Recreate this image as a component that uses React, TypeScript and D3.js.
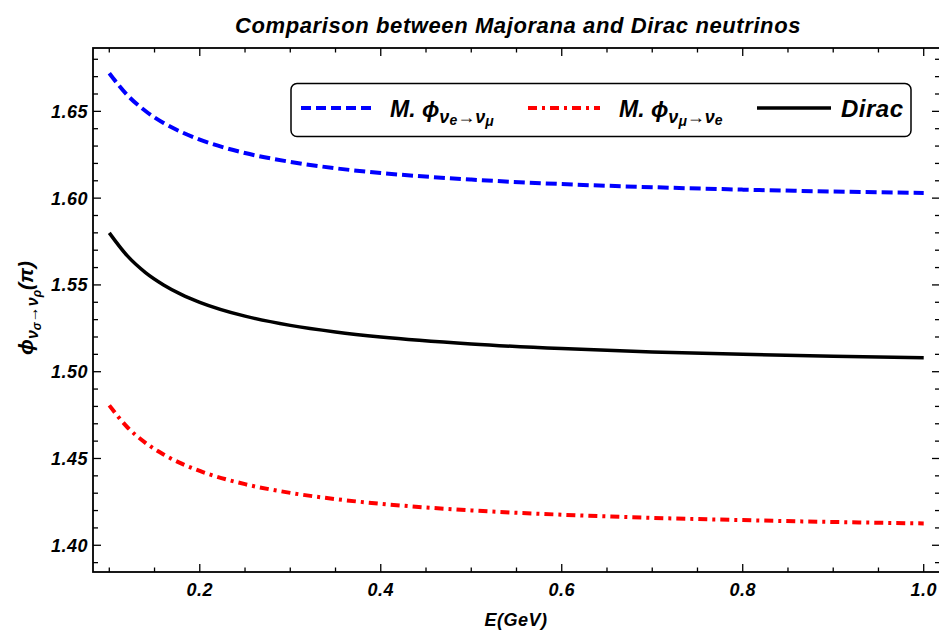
import React from "react";
import * as d3 from "d3";

const energy = [0.1, 0.12, 0.14, 0.16, 0.18, 0.2, 0.25, 0.3, 0.35, 0.4, 0.5, 0.6, 0.7, 0.8, 0.9, 1.0];

// phase in units of pi
const majoranaEMu = [1.672, 1.6593, 1.6502, 1.6433, 1.638, 1.6337, 1.626, 1.6209, 1.6172, 1.6145, 1.6107, 1.6081, 1.6063, 1.6049, 1.6038, 1.603];
const majoranaMuE = [1.4806, 1.468, 1.459, 1.4523, 1.447, 1.4428, 1.4352, 1.4302, 1.4266, 1.4239, 1.4201, 1.4176, 1.4158, 1.4145, 1.4134, 1.4126];
const dirac = [1.58, 1.5667, 1.5571, 1.55, 1.5444, 1.54, 1.532, 1.5267, 1.5229, 1.52, 1.516, 1.5133, 1.5114, 1.51, 1.5089, 1.508];

const xMajor = [0.2, 0.4, 0.6, 0.8, 1.0];
const yMajor = [1.4, 1.45, 1.5, 1.55, 1.6, 1.65];

const W = 939;
const H = 632;
const left = 93;
const right = 940;
const top = 48;
const bottom = 572;
const FONT = "'Liberation Sans', Arial, sans-serif";

export default function App() {
  const x = d3.scaleLinear().domain([0.082, 1.018]).range([left, right]);
  const y = d3.scaleLinear().domain([1.3846, 1.6865]).range([bottom, top]);

  const line = d3
    .line<number>()
    .x((d, i) => x(energy[i]))
    .y((d) => y(d))
    .curve(d3.curveMonotoneX);

  const xMinor = d3.range(2, 21).map((i) => i * 0.05).filter((v) => !xMajor.some((m) => Math.abs(m - v) < 1e-6));
  const yMinor = d3.range(139, 169).map((i) => i / 100).filter((v) => !yMajor.some((m) => Math.abs(m - v) < 1e-6));

  const series = [
    { data: majoranaEMu, color: "#0000ff", dash: "11,5", width: 4 },
    { data: majoranaMuE, color: "#ff0000", dash: "9,5,3,5", width: 4 },
    { data: dirac, color: "#000000", dash: null, width: 3.5 },
  ];

  const tickStroke = { stroke: "#000", strokeWidth: 1.3 };
  const lbl = { fontSize: 18, fontWeight: "bold", fontStyle: "italic", letterSpacing: 0.5 } as const;

  return (
    <svg width={W} height={H} style={{ position: "absolute", left: 0, top: 0, background: "#fff" }} fontFamily={FONT}>
      <defs>
        <clipPath id="plot">
          <rect x={left} y={top} width={right - left} height={bottom - top} />
        </clipPath>
      </defs>
      {/* title */}
      <text x={518} y={33} textAnchor="middle" fontSize={22} fontWeight="bold" fontStyle="italic" letterSpacing={0.6}>
        Comparison between Majorana and Dirac neutrinos
      </text>

      {/* curves */}
      <g clipPath="url(#plot)">
        {series.map((s, i) => (
          <path
            key={i}
            d={line(s.data) || ""}
            fill="none"
            stroke={s.color}
            strokeWidth={s.width}
            strokeDasharray={s.dash || undefined}
          />
        ))}
      </g>

      {/* frame */}
      <rect x={left} y={top} width={right - left} height={bottom - top} fill="none" stroke="#000" strokeWidth={1.8} />

      {/* x ticks */}
      {xMajor.map((v) => (
        <g key={"xM" + v}>
          <line x1={x(v)} x2={x(v)} y1={bottom} y2={bottom - 8} {...tickStroke} />
          <line x1={x(v)} x2={x(v)} y1={top} y2={top + 8} {...tickStroke} />
          <text x={x(v)} y={596} textAnchor="middle" {...lbl}>
            {v.toFixed(1)}
          </text>
        </g>
      ))}
      {xMinor.map((v) => (
        <g key={"xm" + v}>
          <line x1={x(v)} x2={x(v)} y1={bottom} y2={bottom - 4.5} {...tickStroke} />
          <line x1={x(v)} x2={x(v)} y1={top} y2={top + 4.5} {...tickStroke} />
        </g>
      ))}

      {/* y ticks */}
      {yMajor.map((v) => (
        <g key={"yM" + v}>
          <line x1={left} x2={left + 8} y1={y(v)} y2={y(v)} {...tickStroke} />
          <line x1={right} x2={right - 8} y1={y(v)} y2={y(v)} {...tickStroke} />
          <text x={88} y={y(v) + 6.5} textAnchor="end" {...lbl}>
            {v.toFixed(2)}
          </text>
        </g>
      ))}
      {yMinor.map((v) => (
        <g key={"ym" + v}>
          <line x1={left} x2={left + 5} y1={y(v)} y2={y(v)} {...tickStroke} />
          <line x1={right} x2={right - 5} y1={y(v)} y2={y(v)} {...tickStroke} />
        </g>
      ))}

      {/* axis labels */}
      <text x={516} y={626} textAnchor="middle" {...lbl}>
        E(GeV)
      </text>
      <text transform="translate(33,308) rotate(-90)" textAnchor="middle" fontSize={21} fontWeight="bold" fontStyle="italic">
        ϕ
        <tspan fontSize={16} dy={5}>ν</tspan>
        <tspan fontSize={12} dy={3}>σ</tspan>
        <tspan fontSize={16} dy={-3}>→ν</tspan>
        <tspan fontSize={12} dy={3}>ρ</tspan>
        <tspan dy={-8}>(π)</tspan>
      </text>

      {/* legend */}
      <rect x={291} y={83.5} width={620} height={53} rx={6} fill="#fff" stroke="#000" strokeWidth={1.5} />
      <line x1={301} x2={376} y1={108} y2={108} stroke="#0000ff" strokeWidth={4} strokeDasharray="10,5" />
      <text x={390} y={117} fontSize={23} fontWeight="bold" fontStyle="italic">
        M. ϕ
        <tspan fontSize={18} dy={6}>ν</tspan>
        <tspan fontSize={14} dy={2}>e</tspan>
        <tspan fontSize={18} dy={-2}>→ν</tspan>
        <tspan fontSize={14} dy={3}>μ</tspan>
      </text>
      <line x1={528} x2={600} y1={108} y2={108} stroke="#ff0000" strokeWidth={4} strokeDasharray="9,5,3,5" />
      <text x={619} y={117} fontSize={23} fontWeight="bold" fontStyle="italic">
        M. ϕ
        <tspan fontSize={18} dy={6}>ν</tspan>
        <tspan fontSize={14} dy={3}>μ</tspan>
        <tspan fontSize={18} dy={-3}>→ν</tspan>
        <tspan fontSize={14} dy={2}>e</tspan>
      </text>
      <line x1={757} x2={831} y1={108} y2={108} stroke="#000" strokeWidth={3.5} />
      <text x={841} y={117} fontSize={24} fontWeight="bold" fontStyle="italic" letterSpacing={0.5}>
        Dirac
      </text>
    </svg>
  );
}
